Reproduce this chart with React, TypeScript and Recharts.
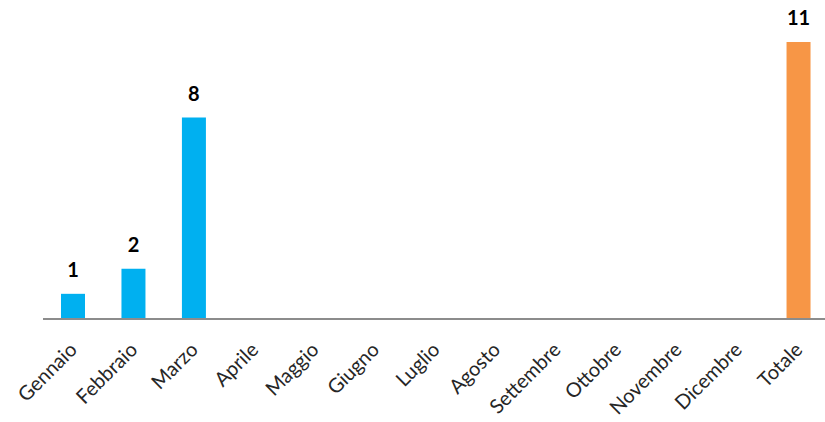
import { BarChart, Bar, XAxis, YAxis, Cell, LabelList } from 'recharts';

const categories = [
  'Gennaio', 'Febbraio', 'Marzo', 'Aprile', 'Maggio', 'Giugno', 'Luglio',
  'Agosto', 'Settembre', 'Ottobre', 'Novembre', 'Dicembre', 'Totale',
];
const values: (number | null)[] = [1, 2, 8, null, null, null, null, null, null, null, null, null, 11];

const data = categories.map((name, i) => ({ name, value: values[i] }));

const BLUE = '#00B0F0';
const ORANGE = '#F79646';
const FONT = "Lato, 'Open Sans', sans-serif";

function AngledTick(props: any) {
  const { x, y, payload } = props;
  return (
    <g transform={`translate(${x + 5},${y + 24})`}>
      <text
        x={0}
        y={0}
        textAnchor="end"
        transform="rotate(-45)"
        fontSize={20}
        fontFamily={FONT}
        fill="#262626"
      >
        {payload.value}
      </text>
    </g>
  );
}

export default function App() {
  return (
    <div style={{ position: 'fixed', left: 0, top: 0, width: 825, height: 422, overflow: 'hidden', background: '#fff' }}>
      <BarChart
        width={830}
        height={422}
        data={data}
        margin={{ top: 42, right: 1, left: 43, bottom: 73 }}
        barCategoryGap={0}
      >
        <YAxis hide domain={[0, 11]} />
        <XAxis
          dataKey="name"
          interval={0}
          tickLine={false}
          height={30}
          axisLine={{ stroke: '#8c8c8c', strokeWidth: 2 }}
          tick={<AngledTick />}
        />
        <Bar dataKey="value" barSize={24} isAnimationActive={false}>
          {data.map((d, i) => (
            <Cell key={d.name} fill={i === data.length - 1 ? ORANGE : BLUE} />
          ))}
          <LabelList
            dataKey="value"
            position="top"
            offset={17}
            fontSize={20}
            fontWeight="bold"
            fontFamily={FONT}
            fill="#000"
          />
        </Bar>
      </BarChart>
    </div>
  );
}
